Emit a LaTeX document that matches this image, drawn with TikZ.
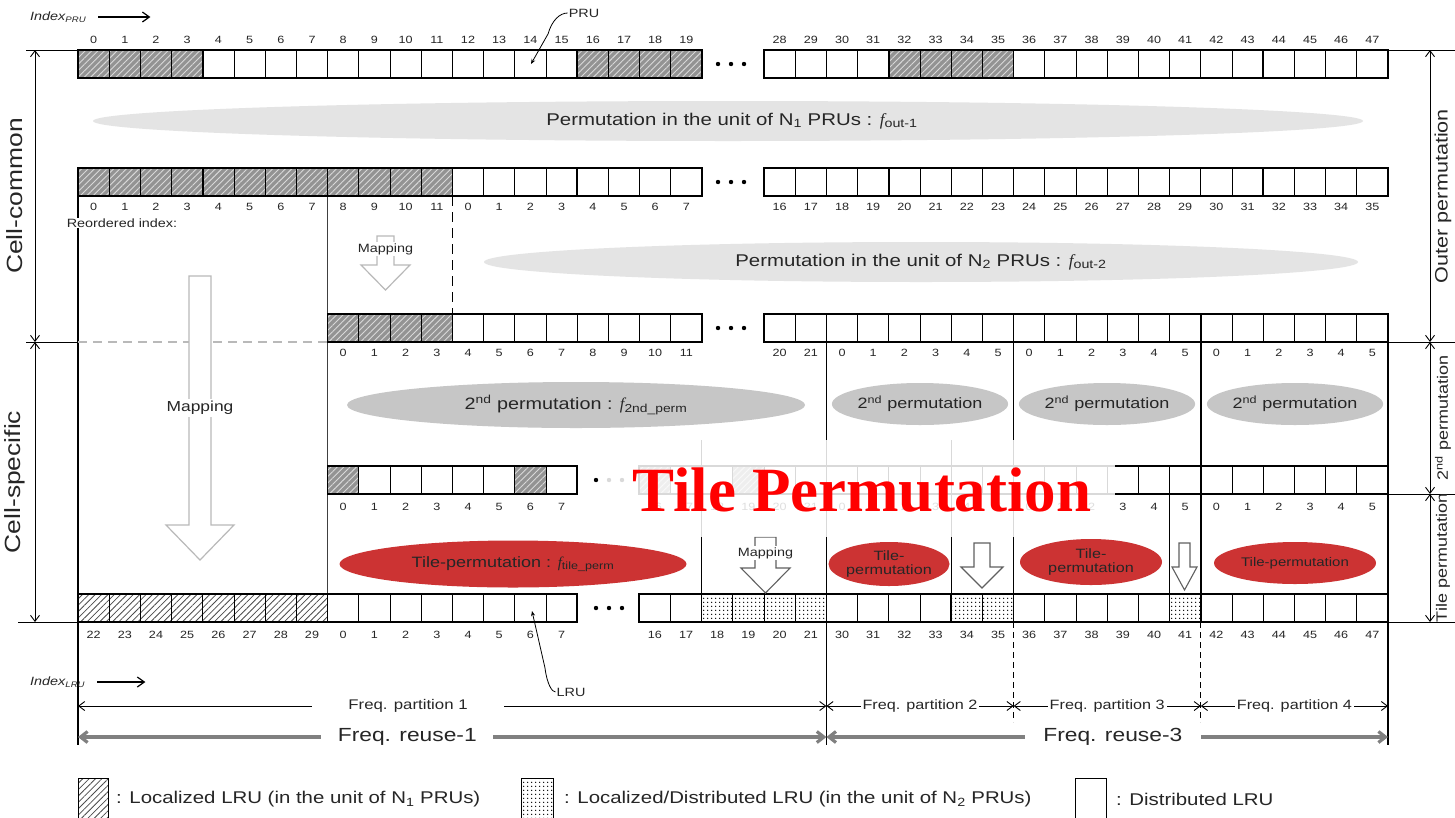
\documentclass[tikz,border=0pt]{standalone}
\usepackage{fontspec}
\usepackage{graphicx}
\setmainfont{Liberation Sans}[FakeStretch=1.2]
\newfontfamily\tnr{Liberation Serif}
\usetikzlibrary{patterns.meta,arrows.meta,shapes.geometric,calc}
\definecolor{ellA}{HTML}{E4E4E4}
\definecolor{ellB}{HTML}{C6C6C6}
\definecolor{redE}{HTML}{CC3333}
\definecolor{txt}{HTML}{262626}
\newcommand{\fs}[1]{\fontsize{#1}{#1}\selectfont}
\newcommand{\ff}{{\tnr\itshape f}}
\tikzset{
 cellW/.style={draw=black, line width=0.7pt, fill=white},
 cellH/.style={draw=black, line width=0.7pt, preaction={fill=gray!85}, pattern={Lines[angle=45,distance=4.5pt,line width=0.9pt]}, pattern color=gray!30},
 cellL/.style={draw=black, line width=0.7pt, preaction={fill=white}, pattern={Lines[angle=45,distance=4.5pt,line width=0.8pt]}, pattern color=gray!60!black},
 cellD/.style={draw=black, line width=0.7pt, preaction={fill=white}, pattern={Dots[distance=4pt,radius=0.9pt]}, pattern color=black},
 num/.style={font=\fs{10.5}, inner sep=0pt},
 thickline/.style={line width=1.5pt},
 dim/.style={{Straight Barb[length=6pt,width=9pt]}-{Straight Barb[length=6pt,width=9pt]}, line width=0.9pt},
 reuse/.style={{Straight Barb[length=7pt,width=11pt]}-{Straight Barb[length=7pt,width=11pt]}, line width=3.2pt, draw=black!50},
 harrow/.style={draw=gray!55, line width=1.2pt, fill=white},
 darrow/.style={draw=gray!75!black, line width=1.1pt, fill=white},
 ellgA/.style={ellipse, fill=ellA, inner sep=0pt},
 ellgB/.style={ellipse, fill=ellB, inner sep=0pt},
 ellR/.style={ellipse, fill=redE, inner sep=0pt, align=center},
 lbl/.style={fill=white, inner sep=2pt},
}
% #1 name, #2 x0, #3 y top, #4 label y, #5 list
\newcommand{\cells}[5]{%
  \foreach \lab/\typ [count=\i from 0] in {#5}{%
    \path[cell\typ] (#2+\i*31.2,#3) rectangle ++(31.2,28);
    \node[num] (#1-\i) at (#2+\i*31.2+15.6,#4) {\lab};
  }}
% #1 x0, #2 y top, #3 n
\newcommand{\frm}[3]{\draw[thickline] (#1,#2) rectangle ++(#3*31.2,28);}
% #1 x0, #2 y top, #3 group list
\newcommand{\grp}[3]{\foreach \k in {#3}{\draw[thickline] (#1+\k*31.2,#2) -- ++(0,28);}}
\newcommand{\tdots}[2]{\foreach \d in {0,13,26}{\fill (#1+\d,#2) circle (2.2);}}

\begin{document}
\begin{tikzpicture}[x=1pt,y=-1pt, every node/.style={text=txt}]
\useasboundingbox (0,0) rectangle (1455,817);
\fill[white] (0,0) rectangle (1455,817);

% ---------- ellipses ----------
\node[ellgA, minimum width=1270pt, minimum height=40pt] (e1) at (728,121) {};
\node[font=\fs{17}] (e1t) at (732,121) {Permutation in the unit of N\textsubscript{1} PRUs : \ff\textsubscript{out-1}};
\node[ellgA, minimum width=874pt, minimum height=40pt] (e2) at (921,262) {};
\node[font=\fs{17}] (e2t) at (921,262) {Permutation in the unit of N\textsubscript{2} PRUs : \ff\textsubscript{out-2}};
\node[ellgB, minimum width=458pt, minimum height=46pt, font=\fs{16.5}] (p1) at (576,405) {2\textsuperscript{nd} permutation : \ff\textsubscript{2nd\_perm}};
\node[ellgB, minimum width=172pt, minimum height=42pt, font=\fs{15}] (p2) at (920,404) {2\textsuperscript{nd} permutation};
\node[ellgB, minimum width=172pt, minimum height=42pt, font=\fs{15}] (p3) at (1107,404) {2\textsuperscript{nd} permutation};
\node[ellgB, minimum width=172pt, minimum height=42pt, font=\fs{15}] (p4) at (1295,404) {2\textsuperscript{nd} permutation};
\node[ellR, minimum width=347pt, minimum height=47pt, font=\fs{15}] (t1) at (513,564) {Tile-permutation : \ff\textsubscript{tile\_perm}};
\node[ellR, minimum width=118pt, minimum height=44pt, font=\fs{13.5}] (t2) at (889,564) {Tile-\\permutation};
\node[ellR, minimum width=142pt, minimum height=46pt, font=\fs{13.5}] (t3) at (1091,562) {Tile-\\permutation};
\node[ellR, minimum width=162pt, minimum height=42pt, font=\fs{12.5}] (t4) at (1295,563) {Tile-permutation};

% ---------- structural lines ----------
\coordinate (vA1) at (78,196);   \coordinate (vA2) at (78,745);
\coordinate (vB1) at (327.6,196); \coordinate (vB2) at (327.6,594);
\coordinate (vC1) at (826.4,342); \coordinate (vC2) at (826.4,745);
\coordinate (vD1) at (1013.6,342); \coordinate (vD2) at (1013.6,622); \coordinate (vD3) at (1013.6,722);
\coordinate (vE1) at (1200.8,342); \coordinate (vE2) at (1200.8,622); \coordinate (vE3) at (1200.8,722);
\coordinate (vF1) at (1388,342);  \coordinate (vF2) at (1388,745);
\coordinate (vG1) at (701.6,440); \coordinate (vG2) at (701.6,594);
\coordinate (vH1) at (951.2,440); \coordinate (vH2) at (951.2,594);
\coordinate (vI1) at (1169.6,494); \coordinate (vI2) at (1169.6,594);
\coordinate (vJ1) at (452.4,196); \coordinate (vJ2) at (452.4,314);
\draw[thickline] (vA1) -- (vA2);
\draw[line width=1.1pt, black!75] (vB1) -- (vB2);
\draw[thickline] (vC1) -- (vC2);
\draw[thickline] (vD1) -- (vD2);
\draw[line width=0.9pt, dash pattern=on 6pt off 4pt] (vD2) -- (vD3);
\draw[thickline] (vE1) -- (vE2);
\draw[line width=0.9pt, dash pattern=on 6pt off 4pt] (vE2) -- (vE3);
\draw[thickline] (vF1) -- (vF2);
\draw[line width=1.1pt] (vG1) -- (vG2);
\draw[line width=1.1pt] (vH1) -- (vH2);
\draw[line width=1.1pt] (vI1) -- (vI2);
\draw[thickline, dash pattern=on 10pt off 6pt] (vJ1) -- (vJ2);

% ---------- cell rows ----------
\cells{ra}{78}{50}{40}{0/H,1/H,2/H,3/H,4/W,5/W,6/W,7/W,8/W,9/W,10/W,11/W,12/W,13/W,14/W,15/W,16/H,17/H,18/H,19/H}
\frm{78}{50}{20}\grp{78}{50}{4,8,12,16}
\cells{rb}{764}{50}{40}{28/W,29/W,30/W,31/W,32/H,33/H,34/H,35/H,36/W,37/W,38/W,39/W,40/W,41/W,42/W,43/W,44/W,45/W,46/W,47/W}
\frm{764}{50}{20}\grp{764}{50}{4,8,12,16}
\tdots{718}{64}

\cells{rc}{78}{168}{207}{0/H,1/H,2/H,3/H,4/H,5/H,6/H,7/H,8/H,9/H,10/H,11/H,0/W,1/W,2/W,3/W,4/W,5/W,6/W,7/W}
\frm{78}{168}{20}\grp{78}{168}{4,8,12,16}
\cells{rd}{764}{168}{207}{16/W,17/W,18/W,19/W,20/W,21/W,22/W,23/W,24/W,25/W,26/W,27/W,28/W,29/W,30/W,31/W,32/W,33/W,34/W,35/W}
\frm{764}{168}{20}\grp{764}{168}{4,8,12,16}
\tdots{718}{182}

\cells{re}{327.6}{314}{353}{0/H,1/H,2/H,3/H,4/W,5/W,6/W,7/W,8/W,9/W,10/W,11/W}
\frm{327.6}{314}{12}\grp{327.6}{314}{4}
\cells{rf}{764}{314}{353}{20/W,21/W,0/W,1/W,2/W,3/W,4/W,5/W,0/W,1/W,2/W,3/W,4/W,5/W,0/W,1/W,2/W,3/W,4/W,5/W}
\frm{764}{314}{20}\grp{764}{314}{2,8,14}
\tdots{718}{328}

\cells{rg}{327.6}{466}{507}{0/H,1/W,2/W,3/W,4/W,5/W,6/H,7/W}
\frm{327.6}{466}{8}
\cells{rh}{639.2}{466}{507}{16/H,17/W,18/W,19/H,20/W,21/W,0/W,1/W,2/W,3/W,4/W,5/W,0/W,1/W,2/W,3/W,4/W,5/W,0/W,1/W,2/W,3/W,4/W,5/W}
\frm{639.2}{466}{24}\grp{639.2}{466}{6,12,18}
\tdots{596}{480}

\cells{ri}{78}{594}{635}{22/L,23/L,24/L,25/L,26/L,27/L,28/L,29/L,0/W,1/W,2/W,3/W,4/W,5/W,6/W,7/W}
\frm{78}{594}{16}\grp{78}{594}{8}
\cells{rj}{639.2}{594}{635}{16/W,17/W,18/D,19/D,20/D,21/D,30/W,31/W,32/W,33/W,34/D,35/D,36/W,37/W,38/W,39/W,40/W,41/D,42/W,43/W,44/W,45/W,46/W,47/W}
\frm{639.2}{594}{24}\grp{639.2}{594}{2,6,10,12,17,18}
\tdots{596}{608}

% dashed gray divider
\coordinate (gd1) at (78,342); \coordinate (gd2) at (327.6,342);
\draw[gray!55, line width=1.2pt, dash pattern=on 9pt off 6pt] (gd1) -- (gd2);

% ---------- hollow arrows ----------
\draw[harrow] (189,276) -- (211,276) -- (211,525) -- (234,525) -- (200,560) -- (166,525) -- (189,525) -- cycle;
\node[lbl, font=\fs{14.5}] (mapL) at (200,408) {Mapping};
\draw[harrow] (377,236) -- (394,236) -- (394,265) -- (410,265) -- (385.5,290) -- (361,265) -- (377,265) -- cycle;
\node[lbl, font=\fs{12}, inner sep=1pt] (mapS) at (385.5,249) {Mapping};
\draw[darrow] (755,537) -- (776,537) -- (776,568) -- (790,568) -- (765.5,593) -- (741,568) -- (755,568) -- cycle;
\node[lbl, font=\fs{12}, inner sep=1pt] (mapR) at (765.5,553) {Mapping};
\draw[darrow] (974,543) -- (990,543) -- (990,567) -- (1003,567) -- (982,588) -- (961,567) -- (974,567) -- cycle;
\draw[darrow] (1179,543) -- (1190,543) -- (1190,567) -- (1197,567) -- (1184.5,590) -- (1172,567) -- (1179,567) -- cycle;

\node[lbl, font=\fs{12}, inner sep=1pt] (reord) at (122,223) {Reordered index:};

% ---------- left / right dimensions ----------
\coordinate (hl1a) at (26,50);  \coordinate (hl1b) at (78,50);
\coordinate (hl2a) at (26,342); \coordinate (hl2b) at (78,342);
\coordinate (hl3a) at (18,622); \coordinate (hl3b) at (78,622);
\draw[line width=1pt] (hl1a) -- (hl1b);
\draw[line width=1pt] (hl2a) -- (hl2b);
\draw[line width=1pt] (hl3a) -- (hl3b);
\coordinate (cL1) at (35,50); \coordinate (cL2) at (35,342); \coordinate (cL3) at (35,622);
\draw[dim] (cL1) -- (cL2);
\draw[dim] (cL2) -- (cL3);
\node[rotate=90, font=\fs{22}] (cc) at (15,196) {Cell-common};
\node[rotate=90, font=\fs{22}] (cs) at (15,482) {Cell-specific};

\coordinate (hr1a) at (1388,50);  \coordinate (hr1b) at (1455,50);
\coordinate (hr2a) at (1388,342); \coordinate (hr2b) at (1455,342);
\coordinate (hr3a) at (1388,494); \coordinate (hr3b) at (1455,494);
\coordinate (hr4a) at (1388,622); \coordinate (hr4b) at (1455,622);
\draw[line width=1pt] (hr1a) -- (hr1b);
\draw[line width=1pt] (hr2a) -- (hr2b);
\draw[line width=1pt] (hr3a) -- (hr3b);
\draw[line width=1pt] (hr4a) -- (hr4b);
\coordinate (cR1) at (1430,50); \coordinate (cR2) at (1430,342); \coordinate (cR3) at (1430,494); \coordinate (cR4) at (1430,622);
\draw[dim] (cR1) -- (cR2);
\draw[dim] (cR2) -- (cR3);
\draw[dim] (cR3) -- (cR4);
\node[rotate=90, font=\fs{18}] (op) at (1443,196) {Outer permutation};
\node[rotate=90, font=\fs{15}] (sp) at (1443,418) {2\textsuperscript{nd} permutation};
\node[rotate=90, font=\fs{15}] (tp) at (1443,558) {Tile permutation};

% ---------- index labels ----------
\node[anchor=west, font=\fs{12}\itshape, inner sep=0pt] (idxP) at (30,17) {Index\textsubscript{PRU}};
\draw[-{Straight Barb[length=7pt,width=10pt]}, line width=1.2pt] ($(idxP.east)+(12,0)$) -- ++(52,0);
\node[anchor=west, font=\fs{12}\itshape, inner sep=0pt] (idxL) at (30,682) {Index\textsubscript{LRU}};
\draw[-{Straight Barb[length=7pt,width=10pt]}, line width=1.2pt] ($(idxL.east)+(12,0)$) -- ++(48,0);

\node[font=\fs{12}, inner sep=1pt] (pru) at (584,13) {PRU};
\draw[-{Stealth[length=5pt,width=4pt]}, line width=0.8pt] (pru.west) .. controls (560,13) and (552,20) .. (548,34) -- (531,64);
\node[font=\fs{12}, inner sep=1pt] (lru) at (571,692) {LRU};
\draw[-{Stealth[length=5pt,width=4pt]}, line width=0.8pt] (lru.west) .. controls (552,692) and (547,684) .. (545,668) -- (532,611);

% ---------- frequency partitions ----------
\coordinate (cP0) at (78,706); \coordinate (cP1) at (826.4,706); \coordinate (cP2) at (1013.6,706); \coordinate (cP3) at (1200.8,706); \coordinate (cP4) at (1388,706);
\draw[dim] (cP0) -- (cP1) node[pos=0.441, fill=white, font=\fs{14}, minimum width=192pt, inner sep=2pt] (fp1) {Freq. partition 1};
\draw[dim] (cP1) -- (cP2) node[midway, fill=white, font=\fs{13.5}, inner sep=2pt] (fp2) {Freq. partition 2};
\draw[dim] (cP2) -- (cP3) node[midway, fill=white, font=\fs{13.5}, inner sep=2pt] (fp3) {Freq. partition 3};
\draw[dim] (cP3) -- (cP4) node[midway, fill=white, font=\fs{13.5}, inner sep=2pt] (fp4) {Freq. partition 4};
\coordinate (cQ0) at (78,737); \coordinate (cQ1) at (826.4,737); \coordinate (cQ2) at (1388,737);
\draw[reuse] (cQ0) -- (cQ1) node[pos=0.44, fill=white, text=txt, font=\fs{19}, minimum width=172pt, inner sep=2pt] (fr1) {Freq. reuse-1};
\draw[reuse] (cQ1) -- (cQ2) node[pos=0.51, fill=white, text=txt, font=\fs{19}, minimum width=176pt, inner sep=2pt] (fr3) {Freq. reuse-3};

% ---------- overlay ----------
\fill[white, opacity=0.85] (606,440) rectangle (1115,537);
\node[font=\tnr\bfseries\fs{63}, text=red, inner sep=0pt] (title) at (862,490) {Tile Permutation};

% ---------- legend ----------
\path[cellL] (78,778) rectangle (108,830);
\node[anchor=west, font=\fs{17}, inner sep=0pt] (lg1) at (116,799) {: Localized LRU (in the unit of N\textsubscript{1} PRUs)};
\path[cellD] (521,778) rectangle (553,830);
\node[anchor=west, font=\fs{17}, inner sep=0pt] (lg2) at (564,799) {: Localized/Distributed LRU (in the unit of N\textsubscript{2} PRUs)};
\path[cellW] (1075,778) rectangle (1106,830);
\node[anchor=west, font=\fs{17}, inner sep=0pt] (lg3) at (1116,799) {: Distributed LRU};
\end{tikzpicture}
\end{document}
